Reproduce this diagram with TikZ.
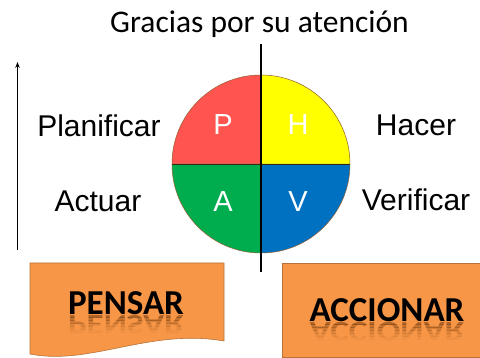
\documentclass[tikz,border=0pt]{standalone}
\usepackage{fontspec}
\newfontfamily\carl{Carlito}
\newfontfamily\arl{Liberation Sans}
\usetikzlibrary{arrows.meta}
\definecolor{qred}{HTML}{FF5450}
\definecolor{qyellow}{HTML}{FFFF00}
\definecolor{qgreen}{HTML}{00AD4E}
\definecolor{qblue}{HTML}{0070C0}
\definecolor{boxfill}{HTML}{F79646}
\definecolor{boxline}{HTML}{B8733A}
\definecolor{reflcol}{HTML}{7A3E10}
\tikzset{
  lbl/.style={anchor=base, inner sep=0pt, font=\arl\fontsize{30}{30}\selectfont},
  qlbl/.style={anchor=base, inner sep=0pt, text=white, font=\arl\fontsize{29}{29}\selectfont},
  bigw/.style={anchor=base, inner sep=0pt, font=\carl\bfseries\fontsize{35}{35}\selectfont},
  refl/.style={anchor=base, inner sep=0pt, text=reflcol, font=\carl\bfseries\fontsize{35}{35}\selectfont},
  orangebox/.style={fill=boxfill, draw=boxline, line width=0.6pt}
}
\begin{document}
\begin{tikzpicture}[x=1pt,y=-1pt]
\useasboundingbox (0,0) rectangle (480,358);
% title
\node[anchor=base, inner sep=0pt, font=\carl\fontsize{31.5}{31.5}\selectfont] (title) at (259.5,33) {Gracias por su atención};
% circle quadrants
\coordinate (c) at (261,164);
\fill[qred] (c) -- ++(-89,0) arc[start angle=180, end angle=270, radius=89] -- cycle;
\fill[qyellow] (c) -- ++(0,-89) arc[start angle=270, end angle=360, radius=89] -- cycle;
\fill[qblue] (c) -- ++(89,0) arc[start angle=0, end angle=90, radius=89] -- cycle;
\fill[qgreen] (c) -- ++(0,89) arc[start angle=90, end angle=180, radius=89] -- cycle;
\draw[draw=boxline!80!black, line width=0.5pt] (c) circle[radius=89];
\draw[draw=black!70!brown, line width=0.6pt] (172,164) -- (350,164);
% vertical line
\coordinate (vtop) at (261,44);
\coordinate (vbot) at (261,272);
\draw[line width=1.2pt] (vtop) -- (vbot);
% quadrant letters
\node[qlbl] (P) at (223,135) {P};
\node[qlbl] (H) at (298,135) {H};
\node[qlbl] (A) at (223,212) {A};
\node[qlbl] (V) at (298,212) {V};
% side labels
\node[lbl] (plan) at (99,137) {Planificar};
\node[lbl] (act) at (98,212) {Actuar};
\node[lbl] (hac) at (416,136) {Hacer};
\node[lbl] (ver) at (416,211) {Verificar};
% arrow
\coordinate (abot) at (17.5,250);
\coordinate (atop) at (17.5,62);
\draw[line width=1pt, -{Stealth[length=6pt,width=4.5pt]}] (abot) -- (atop);
% PENSAR box
\path[orangebox] (30,263) -- (224,263) -- (224,341)
  .. controls (150,328) and (90,366) .. (30,354) -- cycle;
\foreach \a/\b/\op in {0/3/0.55,3/6/0.42,6/9/0.3,9/12/0.2,12/15/0.12,15/20/0.06}{
  \begin{scope}
    \clip (60,315+\a) rectangle (195,315+\b);
    \node[refl, text opacity=\op] (pensarR) at (126,316) {\scalebox{1}[-0.8]{PENSAR}};
  \end{scope}
}
\node[bigw] (pensar) at (126,315) {PENSAR};
% ACCIONAR box
\path[orangebox] (282,263) rectangle (482,357);
\foreach \a/\b/\op in {0/3/0.55,3/6/0.42,6/9/0.3,9/12/0.2,12/15/0.12,15/20/0.06}{
  \begin{scope}
    \clip (300,322+\a) rectangle (475,322+\b);
    \node[refl, text opacity=\op] (accionarR) at (387,323) {\scalebox{1}[-0.8]{ACCIONAR}};
  \end{scope}
}
\node[bigw] (accionar) at (387,322) {ACCIONAR};
\end{tikzpicture}
\end{document}
